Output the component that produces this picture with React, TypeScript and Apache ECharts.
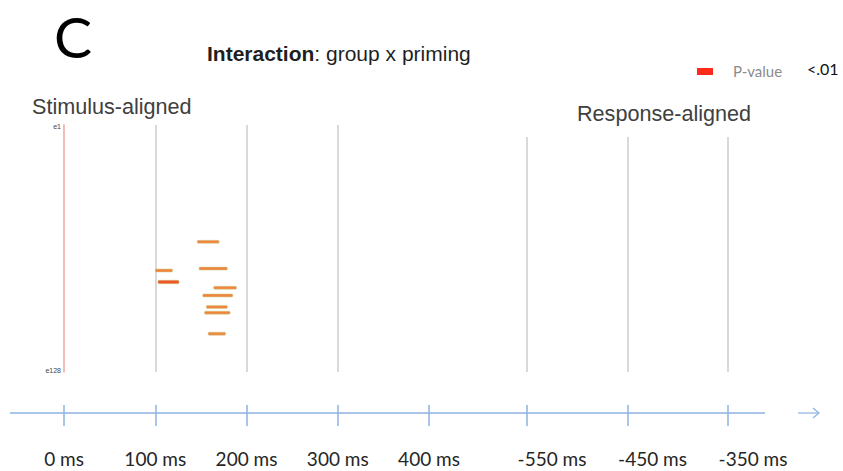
import React, { useEffect, useRef } from "react";
import * as echarts from "echarts";

// Time axes (ms)
const stimulusTicks = [0, 100, 200, 300, 400];
const responseTicks = [-550, -450, -350];
// Electrode range labels
const electrodeLabels = [1, 128];

// Significant clusters: electrode, onset and offset (ms after stimulus)
const electrode = [61, 75, 76, 82, 85, 89, 95, 98, 109];
const onsetMs = [146, 148, 100, 103, 164, 152, 156, 154, 158];
const offsetMs = [170, 179, 119, 126, 189, 185, 179, 182, 177];
const belowP01 = [false, false, false, true, false, false, false, false, false];

const AXIS_BLUE = "#8db3e2";
const GRID_GRAY = "#d9d9d9";

export default function App() {
  const ref = useRef<HTMLDivElement>(null);

  useEffect(() => {
    if (!ref.current) return;
    const chart = echarts.init(ref.current, null, { renderer: "svg" });

    const clusterData = electrode.map((e, i) => [
      onsetMs[i],
      offsetMs[i],
      e,
      belowP01[i] ? 1 : 0,
    ]);

    const msLabel = {
      fontFamily: "Lato",
      fontSize: 19,
      color: "#262626",
      margin: 44,
      formatter: (v: number) => `${v} ms`,
    };

    const option: any = {
      animation: false,
      backgroundColor: "#ffffff",
      title: {
        text: "{b|Interaction}{r|: group x priming}",
        left: 202,
        top: 38,
        textStyle: {
          rich: {
            b: {
              fontFamily: "Liberation Sans",
              fontWeight: "bold",
              fontSize: 21,
              color: "#1f1f1f",
            },
            r: {
              fontFamily: "Liberation Sans",
              fontWeight: "normal",
              fontSize: 21,
              color: "#1f1f1f",
            },
          },
        },
      },
      grid: [
        { left: 64, top: 125, width: 365, height: 247 },
        { left: 527, top: 137, width: 201, height: 235 },
      ],
      xAxis: [
        {
          gridIndex: 0,
          type: "value",
          min: stimulusTicks[0],
          max: stimulusTicks[stimulusTicks.length - 1],
          interval: 100,
          position: "bottom",
          offset: 33,
          axisLine: { show: false, onZero: false },
          axisTick: {
            show: true,
            length: 21,
            lineStyle: { color: AXIS_BLUE, width: 1.5 },
          },
          axisLabel: msLabel,
          splitLine: {
            show: true,
            showMinLine: false,
            showMaxLine: false,
            lineStyle: { color: GRID_GRAY, width: 2 },
          },
        },
        {
          gridIndex: 1,
          type: "value",
          min: responseTicks[0],
          max: responseTicks[responseTicks.length - 1],
          position: "bottom",
          offset: 33,
          axisLine: { show: false, onZero: false },
          axisTick: {
            show: true,
            customValues: responseTicks,
            length: 21,
            lineStyle: { color: AXIS_BLUE, width: 1.5 },
          },
          axisLabel: {
            ...msLabel,
            customValues: responseTicks,
            padding: [0, 0, 0, 50],
          },
          splitLine: {
            show: true,
            lineStyle: { color: GRID_GRAY, width: 2 },
          },
        },
      ],
      yAxis: [
        {
          gridIndex: 0,
          type: "value",
          min: 0,
          max: 129,
          inverse: true,
          axisLine: { show: true, lineStyle: { color: "#f0a3a3", width: 1.5 } },
          axisTick: { show: false },
          splitLine: { show: false },
          axisLabel: {
            customValues: electrodeLabels,
            formatter: (v: number) => `e${v}`,
            fontFamily: "Liberation Sans",
            fontSize: 7,
            color: "#444",
            margin: 3,
          },
        },
        {
          gridIndex: 1,
          type: "value",
          min: 0,
          max: 129,
          inverse: true,
          axisLine: { show: false },
          axisTick: { show: false },
          axisLabel: { show: false },
          splitLine: { show: false },
        },
      ],
      series: [
        {
          type: "custom",
          xAxisIndex: 0,
          yAxisIndex: 0,
          data: clusterData,
          encode: { x: [0, 1], y: 2 },
          renderItem: (_params: any, api: any) => {
            const y = api.value(2);
            const p0 = api.coord([api.value(0), y]);
            const p1 = api.coord([api.value(1), y]);
            const strong = api.value(3) === 1;
            const h = strong ? 3.5 : 3;
            return {
              type: "rect",
              shape: {
                x: p0[0],
                y: p0[1] - h / 2,
                width: p1[0] - p0[0],
                height: h,
                r: 1,
              },
              style: {
                fill: strong ? "#f0562a" : "#f08540",
                stroke: "rgba(200,208,130,0.5)",
                lineWidth: 1,
              },
            };
          },
        },
      ],
      graphic: [
        {
          type: "text",
          x: 54,
          y: 36,
          style: {
            text: "C",
            fontFamily: "Lato",
            fontSize: 57,
            fill: "#000",
            verticalAlign: "middle",
          },
        },
        {
          type: "text",
          x: 32,
          y: 106,
          style: {
            text: "Stimulus-aligned",
            fontFamily: "Liberation Sans",
            fontSize: 21.6,
            fill: "#404040",
            verticalAlign: "middle",
          },
        },
        {
          type: "text",
          x: 577,
          y: 113,
          style: {
            text: "Response-aligned",
            fontFamily: "Liberation Sans",
            fontSize: 21.6,
            fill: "#404040",
            verticalAlign: "middle",
          },
        },
        {
          type: "rect",
          shape: { x: 697, y: 68, width: 16, height: 7 },
          style: { fill: "#ff2a1a" },
        },
        {
          type: "text",
          x: 733,
          y: 71,
          style: {
            text: "P-value",
            fontFamily: "Lato",
            fontSize: 15,
            fill: "#8c8c8c",
            verticalAlign: "middle",
          },
        },
        {
          type: "text",
          x: 807,
          y: 68,
          style: {
            text: "<.01",
            fontFamily: "Lato",
            fontSize: 16,
            fill: "#111",
            verticalAlign: "middle",
          },
        },
        {
          type: "line",
          shape: { x1: 10, y1: 413, x2: 765, y2: 413 },
          style: { stroke: AXIS_BLUE, lineWidth: 1.5 },
        },
        {
          type: "line",
          shape: { x1: 798, y1: 413, x2: 819, y2: 413 },
          style: { stroke: AXIS_BLUE, lineWidth: 1.2 },
        },
        {
          type: "polyline",
          shape: {
            points: [
              [813, 408],
              [819, 413],
              [813, 418],
            ],
          },
          style: { stroke: AXIS_BLUE, lineWidth: 1.2, fill: "none" },
        },
      ],
    };

    chart.setOption(option);
    return () => chart.dispose();
  }, []);

  return (
    <div
      ref={ref}
      style={{ position: "fixed", left: 0, top: 0, width: 843, height: 471 }}
    />
  );
}
